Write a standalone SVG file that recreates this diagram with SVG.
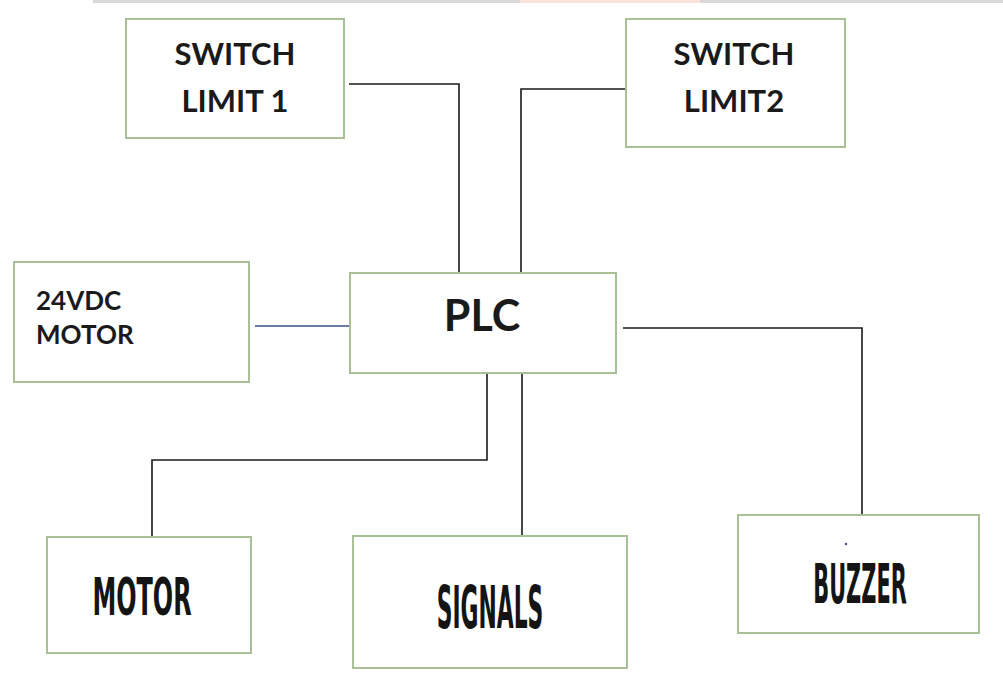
<svg xmlns="http://www.w3.org/2000/svg" width="1003" height="673" viewBox="0 0 1003 673">
<style>
.box{fill:#ffffff;stroke:#a9bf95;stroke-width:2}
.t{font-family:Lato,"Open Sans","Liberation Sans",sans-serif;font-weight:bold;fill:#1a1a1a}
.c{font-family:"DejaVu Sans","Liberation Sans",sans-serif;font-weight:bold;fill:#141414}
.w{fill:none;stroke:#1a1a1a;stroke-width:1.6}
</style>
<rect x="0" y="0" width="1003" height="673" fill="#ffffff"/>
<rect x="93" y="0" width="910" height="3" fill="#d9d9d9"/>
<rect x="520" y="0" width="180" height="3" fill="#fbe3da"/>
<g id="connectors">
<polyline class="w" points="349,84 459,84 459,273"/>
<polyline class="w" points="625,89 521,89 521,273"/>
<line x1="255" y1="326" x2="350" y2="326" stroke="#3b4d8c" stroke-width="1.4"/>
<polyline class="w" points="623,328 862,328 862,515"/>
<polyline class="w" points="487,373 487,460 152,460 152,537"/>
<line class="w" x1="522" y1="373" x2="522" y2="536"/>
</g>
<g id="switch-limit-1">
<rect class="box" x="126" y="19" width="218" height="119"/>
<text class="t" x="235" y="65" font-size="31" text-anchor="middle">SWITCH</text>
<text class="t" x="235" y="112" font-size="31" text-anchor="middle">LIMIT 1</text>
</g>
<g id="switch-limit-2">
<rect class="box" x="626" y="19" width="219" height="128"/>
<text class="t" x="734" y="65" font-size="31" text-anchor="middle">SWITCH</text>
<text class="t" x="734" y="112" font-size="31" text-anchor="middle">LIMIT2</text>
</g>
<g id="motor-24vdc">
<rect class="box" x="14" y="262" width="235" height="120"/>
<text class="t" x="36" y="310" font-size="26">24VDC</text>
<text class="t" x="36" y="344" font-size="26">MOTOR</text>
</g>
<g id="plc">
<rect class="box" x="350" y="273" width="266" height="100"/>
<text class="t" x="482" y="331" font-size="43" text-anchor="middle">PLC</text>
</g>
<g id="motor">
<rect class="box" x="47" y="537" width="204" height="116"/>
<text class="c" transform="translate(142,615) scale(0.46,1)" x="0" y="0" font-size="52" text-anchor="middle">MOTOR</text>
</g>
<g id="signals">
<rect class="box" x="353" y="536" width="274" height="132"/>
<text class="c" transform="translate(490,628) scale(0.37,1)" x="0" y="0" font-size="59" text-anchor="middle">SIGNALS</text>
</g>
<g id="buzzer">
<rect class="box" x="738" y="515" width="241" height="118"/>
<circle cx="846" cy="544" r="1.2" fill="#3b4d8c"/>
<text class="c" transform="translate(860,603) scale(0.38,1)" x="0" y="0" font-size="55" text-anchor="middle">BUZZER</text>
</g>
</svg>
